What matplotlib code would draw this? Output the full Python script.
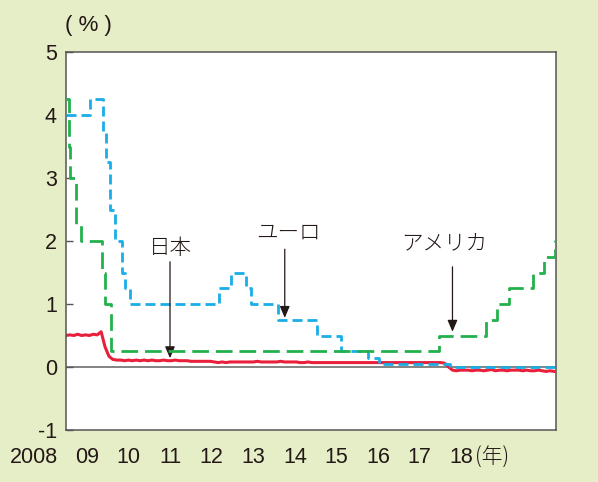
"""Policy rates: Japan / Euro / US, 2008-2018 (recreated chart)."""

import matplotlib

matplotlib.use("Agg")
import matplotlib.pyplot as plt
import numpy as np

# --- data -----------------------------------------------------------------
# ECB main refinancing rate (step changes, decimal year)
euro_x = [2008.00, 2008.52, 2008.79, 2008.86, 2008.94, 2009.05, 2009.19, 2009.27,
          2009.36, 2011.27, 2011.53, 2011.84, 2011.94, 2012.53, 2013.36, 2013.86,
          2014.44, 2014.69, 2016.20, 2018.46]
euro_y = [4.00, 4.25, 3.75, 3.25, 2.50, 2.00, 1.50, 1.25,
          1.00, 1.25, 1.50, 1.25, 1.00, 0.75, 0.50, 0.25,
          0.15, 0.05, 0.00, 0.00]

# US federal funds target (upper bound)
us_x = [2008.00, 2008.06, 2008.08, 2008.21, 2008.33, 2008.77, 2008.83, 2008.96,
        2015.96, 2016.96, 2017.21, 2017.46, 2017.96, 2018.21, 2018.43, 2018.46]
us_y = [4.25, 3.50, 3.00, 2.25, 2.00, 1.50, 1.00, 0.25,
        0.50, 0.75, 1.00, 1.25, 1.50, 1.75, 2.00, 2.00]

# Japan uncollateralized overnight call rate, monthly (Jan 2008 - Jun 2018)
jp_y = [
    0.50, 0.51, 0.50, 0.52, 0.50, 0.51, 0.50, 0.52, 0.51, 0.56, 0.32, 0.17,  # 2008
    0.12, 0.11, 0.11, 0.10, 0.11, 0.10, 0.11, 0.10, 0.11, 0.10, 0.11, 0.10,  # 2009
    0.10, 0.11, 0.10, 0.10, 0.11, 0.10, 0.10, 0.10, 0.09, 0.09, 0.09, 0.09,  # 2010
    0.09, 0.09, 0.08, 0.07, 0.08, 0.07, 0.08, 0.08, 0.08, 0.08, 0.08, 0.08,  # 2011
    0.08, 0.09, 0.08, 0.08, 0.08, 0.08, 0.08, 0.09, 0.08, 0.08, 0.08, 0.08,  # 2012
    0.07, 0.07, 0.08, 0.07, 0.07, 0.07, 0.07, 0.07, 0.07, 0.07, 0.07, 0.07,  # 2013
    0.07, 0.07, 0.07, 0.07, 0.07, 0.07, 0.07, 0.07, 0.07, 0.07, 0.07, 0.07,  # 2014
    0.07, 0.07, 0.07, 0.07, 0.07, 0.07, 0.07, 0.07, 0.07, 0.07, 0.07, 0.07,  # 2015
    0.07, 0.06, 0.00, -0.05, -0.06, -0.05, -0.05, -0.05, -0.06, -0.05, -0.05, -0.06,  # 2016
    -0.05, -0.04, -0.06, -0.05, -0.05, -0.06, -0.05, -0.05, -0.05, -0.06, -0.05, -0.06,  # 2017
    -0.06, -0.05, -0.06, -0.07, -0.06, -0.07,  # 2018
]
jp_x = 2008 + np.arange(len(jp_y)) / 12

year_labels = ["2008", "09", "10", "11", "12", "13", "14", "15", "16", "17", "18"]

# label / arrow: (text, text x, text y, arrow top y, arrow tip y)
notes = [
    ("日本", 2010.22, 1.89, 1.67, 0.14),
    ("ユーロ", 2012.75, 2.14, 1.87, 0.78),
    ("アメリカ", 2016.08, 1.97, 1.59, 0.56),
]
arrow_x = [2010.22, 2012.67, 2016.25]

# --- style ----------------------------------------------------------------
BG = "#e6eec8"
INK = "#231815"
FONT = ["Liberation Sans", "Noto Sans CJK JP"]
JP = ["Noto Sans CJK JP", "Liberation Sans"]
plt.rcParams["font.family"] = FONT

fig = plt.figure(figsize=(5.98, 4.82), dpi=100, facecolor=BG)
ax = fig.add_axes([66 / 598, 1 - 430 / 482, 490 / 598, 378 / 482])
ax.set_facecolor("white")

ax.axhline(0, color="#6e6e6e", lw=1.2, zorder=1)
ax.plot(jp_x, jp_y, color="#e8203c", lw=2.2, zorder=2)
ax.step(euro_x, euro_y, where="post", color="#1aaee8", lw=2.0,
        dashes=(3.6, 1.8), zorder=3)
ax.step(us_x, us_y, where="post", color="#22b14c", lw=2.0,
        dashes=(6.0, 2.5), zorder=4)

for (txt, tx, ty, top, tip), ax_x in zip(notes, arrow_x):
    ax.text(tx, ty, txt, ha="center", va="center", fontsize=15.5, color=INK,
            family=JP, fontweight="light")
    ax.annotate("", xy=(ax_x, tip), xytext=(ax_x, top),
                arrowprops=dict(arrowstyle="-|>,head_length=0.7,head_width=0.3",
                                color=INK, lw=0.9, shrinkA=0, shrinkB=0))

ax.set_xlim(2008.0, 2018.46)
ax.set_ylim(-1, 5)
ax.set_yticks(range(-1, 6))
ax.set_yticklabels([str(v) for v in range(-1, 6)])
ax.tick_params(axis="y", direction="in", length=5, width=1, color="#555555",
               labelsize=15.5, labelcolor=INK, pad=6.5)
ax.set_xticks([])
for s in ax.spines.values():
    s.set_color("#555555")
    s.set_linewidth(1.1)

# year labels are evenly typeset under the axis
for i, lab in enumerate(year_labels):
    if i == 0:
        ax.text((58 - 66) / 490, -0.074, lab, transform=ax.transAxes,
                ha="right", va="center", fontsize=15.5, color=INK)
    else:
        px = 87 + 41.6 * (i - 1)
        ax.text((px - 66) / 490, -0.074, lab, transform=ax.transAxes,
                ha="center", va="center", fontsize=15.5, color=INK)
ax.text((475 - 66) / 490, -0.074, "(年)", transform=ax.transAxes,
        ha="left", va="center", fontsize=15, color=INK, family=JP,
        fontweight="light")
ax.text((88 - 66) / 490, 1.071, "( % )", transform=ax.transAxes,
        ha="center", va="center", fontsize=16, color=INK,
        fontweight="light")

fig.savefig("out.png", dpi=100, facecolor=BG)
